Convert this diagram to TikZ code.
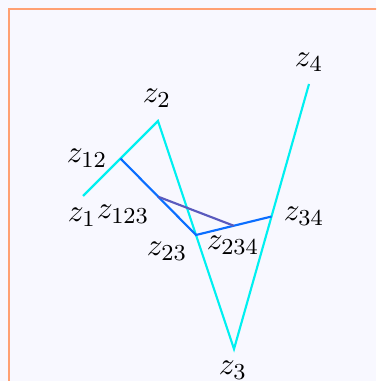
\documentclass[tikz,border=0pt]{standalone}
\usetikzlibrary{calc}
\begin{document}
\begin{tikzpicture}[x=0.35pt,y=-0.35pt,
  lvl0/.style={draw={rgb,255:red,0;green,240;blue,240},line width=0.75pt},
  lvl1/.style={draw={rgb,255:red,10;green,110;blue,255},line width=0.75pt},
  lvl2/.style={draw={rgb,255:red,90;green,90;blue,190},line width=0.75pt},
  lbl/.style={inner sep=0pt,font=\fontsize{10.8}{13}\selectfont}]
\definecolor{bgc}{RGB}{248,248,255}
\definecolor{framec}{RGB}{255,160,115}
\useasboundingbox (0,0) rectangle (376,381);
\fill[bgc] (0,0) rectangle (376,381);
\begin{scope}
\clip (0,0) rectangle (376,381);
\draw[framec,line width=1pt] (9,395) -- (9,9) -- (395,9);
\end{scope}
\coordinate (z1) at (83,196);
\coordinate (z2) at (158,121);
\coordinate (z3) at (234,349);
\coordinate (z4) at (309,84);
\coordinate (z12) at ($ (z1)!0.5!(z2) $);
\coordinate (z23) at ($ (z2)!0.5!(z3) $);
\coordinate (z34) at ($ (z3)!0.5!(z4) $);
\coordinate (z123) at ($ (z12)!0.5!(z23) $);
\coordinate (z234) at ($ (z23)!0.5!(z34) $);
\draw[lvl0] (z1) -- (z2) -- (z3) -- (z4);
\draw[lvl1] (z12) -- (z23) -- (z34);
\draw[lvl2] (z123) -- (z234);
\node[lbl] (l1) at (82,217) {$z_1$};
\node[lbl] (l2) at (157,98) {$z_2$};
\node[lbl] (l3) at (233,370) {$z_3$};
\node[lbl] (l4) at (309,62) {$z_4$};
\node[lbl] (l12) at (87,158) {$z_{12}$};
\node[lbl] (l123) at (123,214) {$z_{123}$};
\node[lbl] (l23) at (167,251) {$z_{23}$};
\node[lbl] (l234) at (233,245) {$z_{234}$};
\node[lbl] (l34) at (304,216) {$z_{34}$};
\end{tikzpicture}
\end{document}
